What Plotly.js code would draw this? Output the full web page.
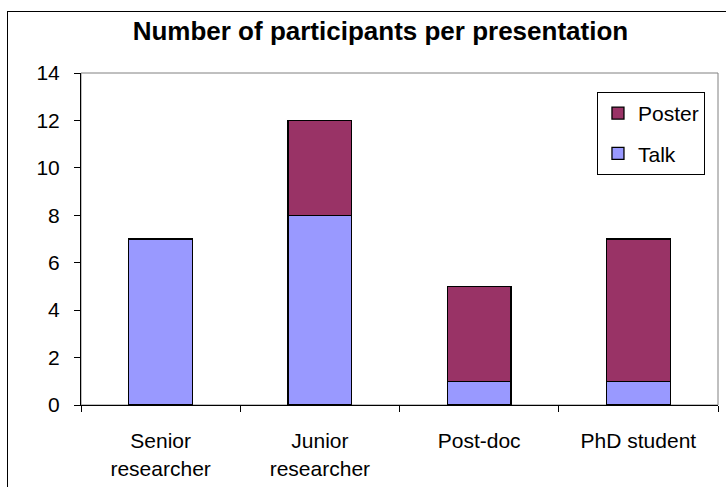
<!DOCTYPE html>
<html>
<head>
<meta charset="utf-8">
<script src="https://cdn.plot.ly/plotly-3.0.1.min.js"></script>
<style>
  html, body { margin: 0; padding: 0; background: #ffffff; }
  #wrap { position: relative; width: 726px; height: 487px; overflow: hidden; }
  #chart { position: absolute; left: 0; top: 0; width: 726px; height: 487px; }
  #frame { position: absolute; left: 7px; top: 11px; width: 800px; height: 600px;
           border: 1px solid #000; pointer-events: none; }
</style>
</head>
<body>
<div id="wrap">
  <div id="chart"></div>
  <div id="frame"></div>
</div>
<script>
const categories = ["Senior<br>researcher", "Junior<br>researcher", "Post-doc", "PhD student"];
const talkValues = [7, 8, 1, 1];
const posterValues = [0, 4, 4, 6];
const yTicks = [0, 2, 4, 6, 8, 10, 12, 14];

const FONT = "Liberation Sans, Arial, sans-serif";

const traces = [
  {
    type: "bar", name: "Talk", x: categories, y: talkValues,
    legendgroup: "talk", legendrank: 2,
    marker: { color: "#9999FF", line: { color: "#000000", width: 1.3 } },
    hoverinfo: "none"
  },
  {
    type: "bar", name: "Poster", x: categories, y: posterValues,
    legendgroup: "poster", legendrank: 1,
    marker: { color: "#993366", line: { color: "#000000", width: 1.3 } },
    hoverinfo: "none"
  }
];

const layout = {
  width: 726, height: 487,
  margin: { l: 81, r: 8, t: 73, b: 82 },
  paper_bgcolor: "#ffffff",
  plot_bgcolor: "#ffffff",
  barmode: "stack",
  bargap: 0.6,
  font: { family: FONT, size: 21, color: "#000000" },
  title: {
    text: "<b>Number of participants per presentation</b>",
    font: { family: FONT, size: 26, color: "#000000" },
    x: 0.524, xanchor: "center", xref: "container",
    y: 0.937, yanchor: "middle", yref: "container"
  },
  xaxis: {
    type: "category",
    showline: true, linecolor: "#000000", linewidth: 1,
    ticks: "outside", tickson: "boundaries", ticklen: 6, tickcolor: "#000000", tickwidth: 1,
    showgrid: false, zeroline: false,
    tickfont: { family: FONT, size: 21, color: "#000000" },
    ticklabelstandoff: 17
  },
  yaxis: {
    range: [0, 14],
    tickvals: yTicks,
    ticktext: yTicks.map(String),
    showline: true, linecolor: "#000000", linewidth: 1,
    ticks: "outside", ticklen: 6, tickcolor: "#000000", tickwidth: 1,
    showgrid: false, zeroline: false,
    tickfont: { family: FONT, size: 21, color: "#000000" },
    ticklabelstandoff: 10
  },
  legend: {
    x: 0.81, xanchor: "left", y: 0.943, yanchor: "top",
    traceorder: "grouped",
    bordercolor: "#000000", borderwidth: 1, bgcolor: "#ffffff",
    font: { family: FONT, size: 21, color: "#000000" },
    itemwidth: 30,
    tracegroupgap: 10
  },
  shapes: [
    {
      type: "rect", xref: "paper", yref: "paper", x0: 0, x1: 1, y0: 0, y1: 1,
      line: { color: "#808080", width: 1 }, fillcolor: "rgba(0,0,0,0)", layer: "below"
    }
  ],
  showlegend: true
};

Plotly.newPlot("chart", traces, layout, { staticPlot: true, displayModeBar: false });
</script>
</body>
</html>
